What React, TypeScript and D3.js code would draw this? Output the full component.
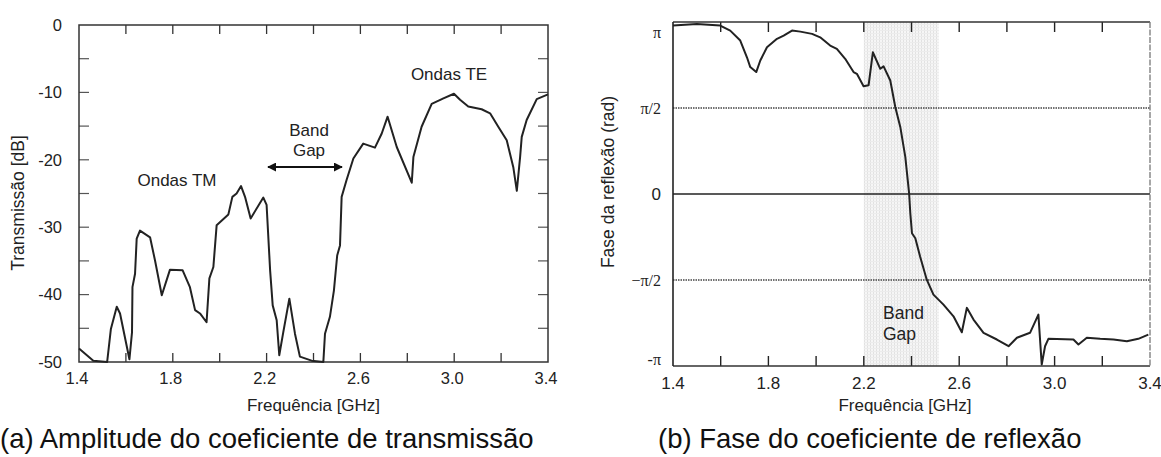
import React from 'react';
import * as d3 from 'd3';

// ---------- Data: (a) transmission amplitude ----------
const transFreq = [1.4, 1.461, 1.52, 1.536, 1.561, 1.575, 1.615, 1.626, 1.628, 1.639, 1.646, 1.66, 1.703, 1.724, 1.753, 1.788, 1.842, 1.873, 1.895, 1.916, 1.944, 1.956, 1.973, 1.987, 2.009, 2.037, 2.054, 2.072, 2.091, 2.108, 2.132, 2.186, 2.2, 2.215, 2.226, 2.243, 2.254, 2.271, 2.297, 2.321, 2.342, 2.392, 2.442, 2.449, 2.47, 2.487, 2.501, 2.513, 2.52, 2.541, 2.57, 2.612, 2.662, 2.691, 2.716, 2.755, 2.819, 2.826, 2.861, 2.904, 2.954, 2.999, 3.025, 3.06, 3.117, 3.153, 3.188, 3.224, 3.252, 3.267, 3.281, 3.288, 3.309, 3.352, 3.4];
const transDb = [-48.0, -49.8, -50.0, -45.1, -41.8, -42.8, -49.6, -45.6, -38.9, -36.9, -31.7, -30.5, -31.5, -34.9, -40.1, -36.3, -36.4, -38.9, -42.3, -42.8, -44.1, -37.6, -35.9, -29.7, -29.0, -28.1, -25.5, -25.0, -23.9, -25.5, -28.7, -25.6, -26.7, -36.4, -41.6, -43.8, -49.0, -45.6, -40.6, -45.8, -49.2, -49.8, -50.0, -45.8, -43.3, -39.4, -34.2, -32.7, -25.5, -23.0, -19.8, -17.6, -18.2, -16.1, -13.6, -18.1, -23.4, -19.6, -15.1, -11.7, -10.9, -10.2, -11.1, -12.1, -12.5, -13.1, -15.1, -17.1, -21.1, -24.6, -19.6, -16.6, -14.1, -11.0, -10.3];

// ---------- Data: (b) reflection phase (in units of pi) ----------
const phaseFreq = [1.4, 1.5, 1.598, 1.64, 1.682, 1.71, 1.724, 1.749, 1.766, 1.794, 1.836, 1.864, 1.899, 1.934, 1.983, 2.017, 2.059, 2.087, 2.122, 2.157, 2.171, 2.199, 2.22, 2.238, 2.269, 2.283, 2.311, 2.332, 2.353, 2.374, 2.39, 2.395, 2.402, 2.416, 2.436, 2.464, 2.492, 2.534, 2.576, 2.611, 2.632, 2.66, 2.702, 2.758, 2.807, 2.842, 2.897, 2.932, 2.946, 2.96, 2.974, 3.079, 3.1, 3.135, 3.191, 3.247, 3.303, 3.351, 3.393];
const phasePi = [0.979, 0.989, 0.979, 0.95, 0.892, 0.795, 0.738, 0.709, 0.776, 0.853, 0.902, 0.921, 0.95, 0.944, 0.931, 0.911, 0.863, 0.844, 0.786, 0.709, 0.699, 0.626, 0.632, 0.824, 0.728, 0.742, 0.66, 0.506, 0.39, 0.216, 0.004, -0.112, -0.228, -0.257, -0.363, -0.498, -0.585, -0.643, -0.711, -0.804, -0.662, -0.73, -0.807, -0.846, -0.885, -0.836, -0.807, -0.701, -0.991, -0.885, -0.842, -0.846, -0.875, -0.836, -0.842, -0.846, -0.856, -0.842, -0.818];

// ---------- Axes ----------
const freqDomain = [1.4, 3.4];
const freqLabelTicks = [1.4, 1.8, 2.2, 2.6, 3.0, 3.4];
const freqMinorTicks = [1.6, 1.8, 2.0, 2.2, 2.4, 2.6, 2.8, 3.0, 3.2];
const dbDomain = [-50, 0];
const dbLabelTicks = [0, -10, -20, -30, -40, -50];
const dbMinorTicks = [-5, -10, -15, -20, -25, -30, -35, -40, -45];
const phaseTickValues = [1, 0.5, 0, -0.5, -1];
const phaseTickLabels = ['π', 'π/2', '0', '−π/2', '-π'];
const bandGap = [2.2, 2.515];

const SANS = '"Liberation Sans", Arial, Helvetica, sans-serif';
const SERIF = '"Liberation Serif", "Times New Roman", serif';
const INK = '#222';

export default function App() {
  // Left chart
  const L = { l: 79, r: 548, t: 25, b: 362 };
  const xa = d3.scaleLinear().domain(freqDomain).range([L.l, L.r]);
  const ya = d3.scaleLinear().domain(dbDomain).range([L.b, L.t]);
  const lineA = d3.line<number>().x((_, i) => xa(transFreq[i])).y((d) => ya(d));

  // Right chart
  const R = { l: 673, r: 1150, t: 22, b: 366 };
  const xb = d3.scaleLinear().domain(freqDomain).range([R.l, R.r]);
  const yb = d3.scaleLinear().domain([-1, 1]).range([R.b, R.t]);
  const lineB = d3.line<number>().x((_, i) => xb(phaseFreq[i])).y((d) => yb(d));

  const fmt = d3.format('.1f');

  return (
    <div style={{ position: 'absolute', left: 0, top: 0 }}>
      <svg width={1161} height={457} style={{ display: 'block', background: '#fff' }}>
        <defs>
          <pattern id="dots" width="3" height="3" patternUnits="userSpaceOnUse">
            <rect width="3" height="3" fill="#f6f6f6" />
            <rect x="0" y="0" width="1" height="3" fill="#e2e2e2" />
            <rect x="0" y="0" width="3" height="1" fill="#ececec" />
          </pattern>
          <marker id="arrH" viewBox="0 0 10 10" refX="9" refY="5" markerWidth="9" markerHeight="9" orient="auto-start-reverse" markerUnits="userSpaceOnUse">
            <path d="M0,0 L10,5 L0,10 z" fill="#111" />
          </marker>
        </defs>

        {/* ================= (a) ================= */}
        <g>
          {freqMinorTicks.map((f) => (
            <g key={'ta' + f} stroke="#333" strokeWidth={1.3}>
              <line x1={xa(f)} x2={xa(f)} y1={L.t} y2={L.t + 9} />
              <line x1={xa(f)} x2={xa(f)} y1={L.b} y2={L.b - 9} />
            </g>
          ))}
          {dbMinorTicks.map((v) => (
            <g key={'da' + v} stroke="#555" strokeWidth={1.2}>
              <line x1={L.l} x2={L.l + 10} y1={ya(v)} y2={ya(v)} />
              <line x1={L.r} x2={L.r - 10} y1={ya(v)} y2={ya(v)} />
            </g>
          ))}
          <rect x={L.l} y={L.t} width={L.r - L.l} height={L.b - L.t} fill="none" stroke="#333" strokeWidth={1.5} />
          <path d={lineA(transDb) || ''} fill="none" stroke={INK} strokeWidth={2} strokeLinejoin="round" />

          {dbLabelTicks.map((v) => (
            <text key={'dl' + v} x={62} y={ya(v)} dy="0.35em" textAnchor="end" fontFamily={SANS} fontSize={16.5} fill={INK}>{v}</text>
          ))}
          {freqLabelTicks.map((f) => (
            <text key={'fl' + f} x={xa(f) - 2} y={378} dy="0.35em" textAnchor="middle" fontFamily={SANS} fontSize={16.5} fill={INK}>{fmt(f)}</text>
          ))}
          <text x={(L.l + L.r) / 2} y={405} dy="0.35em" textAnchor="middle" fontFamily={SANS} fontSize={17} fill={INK}>Frequência [GHz]</text>
          <text transform="translate(18,203) rotate(-90)" dy="0.35em" textAnchor="middle" fontFamily={SANS} fontSize={17.5} fill={INK}>Transmissão [dB]</text>

          <text x={177} y={180} dy="0.35em" textAnchor="middle" fontFamily={SANS} fontSize={17} fill={INK}>Ondas TM</text>
          <text x={449} y={74} dy="0.35em" textAnchor="middle" fontFamily={SANS} fontSize={17} fill={INK}>Ondas TE</text>
          <text x={309} y={130} dy="0.35em" textAnchor="middle" fontFamily={SANS} fontSize={17} fill={INK}>Band</text>
          <text x={309} y={150} dy="0.35em" textAnchor="middle" fontFamily={SANS} fontSize={17} fill={INK}>Gap</text>
          <line x1={268} x2={342} y1={167} y2={167} stroke="#111" strokeWidth={1.8} markerStart="url(#arrH)" markerEnd="url(#arrH)" />
        </g>

        {/* ================= (b) ================= */}
        <g>
          <rect x={xb(bandGap[0])} y={R.t} width={xb(bandGap[1]) - xb(bandGap[0])} height={R.b - R.t} fill="url(#dots)" />
          {freqMinorTicks.map((f) => (
            <g key={'tb' + f} stroke="#222" strokeWidth={1.4}>
              <line x1={xb(f)} x2={xb(f)} y1={R.t} y2={R.t + 10} />
              <line x1={xb(f)} x2={xb(f)} y1={R.b} y2={R.b - 10} />
            </g>
          ))}
          <line x1={R.l} x2={R.r} y1={yb(0.5)} y2={yb(0.5)} stroke="#444" strokeWidth={1.3} strokeDasharray="1.5,1" />
          <line x1={R.l} x2={R.r} y1={yb(-0.5)} y2={yb(-0.5)} stroke="#444" strokeWidth={1.3} strokeDasharray="1.5,1" />
          <line x1={R.l} x2={R.r} y1={yb(0)} y2={yb(0)} stroke="#222" strokeWidth={1.6} />
          <line x1={R.l} x2={R.r} y1={R.t} y2={R.t} stroke="#333" strokeWidth={1.4} />
          <line x1={R.l} x2={R.r} y1={R.b} y2={R.b} stroke="#333" strokeWidth={1.4} />
          <line x1={R.l} x2={R.l} y1={R.t} y2={R.b} stroke="#222" strokeWidth={1.6} />
          <line x1={R.r} x2={R.r} y1={R.t} y2={R.b} stroke="#777" strokeWidth={1.3} strokeDasharray="6,1.5" />

          <path d={lineB(phasePi) || ''} fill="none" stroke={INK} strokeWidth={2} strokeLinejoin="round" />

          {phaseTickValues.map((v, i) => {
            const yy = v === 1 ? yb(v) + 10 : v === -1 ? yb(v) - 7 : yb(v);
            const isZero = phaseTickLabels[i] === '0';
            return (
              <text key={'pl' + i} x={661} y={yy} dy="0.35em" textAnchor="end" fontFamily={isZero ? SANS : SERIF} fontSize={isZero ? 17 : 16} fill={INK}>{phaseTickLabels[i]}</text>
            );
          })}
          {freqLabelTicks.map((f) => (
            <text key={'flb' + f} x={xb(f)} y={383} dy="0.35em" textAnchor="middle" fontFamily={SANS} fontSize={17} fill={INK}>{fmt(f)}</text>
          ))}
          <text x={905} y={405} dy="0.35em" textAnchor="middle" fontFamily={SANS} fontSize={17} fill={INK}>Frequência [GHz]</text>
          <text transform="translate(608,182) rotate(-90)" dy="0.35em" textAnchor="middle" fontFamily={SANS} fontSize={17.5} fill={INK}>Fase da reflexão (rad)</text>
          <text x={883} y={313} dy="0.35em" fontFamily={SANS} fontSize={17.5} fill={INK}>Band</text>
          <text x={883} y={334} dy="0.35em" fontFamily={SANS} fontSize={17.5} fill={INK}>Gap</text>
        </g>

        <text x={0} y={448} fontFamily={SANS} fontSize={27.5} fill="#111">(a) Amplitude do coeficiente de transmissão</text>
        <text x={658} y={448} fontFamily={SANS} fontSize={27.5} fill="#111">(b) Fase do coeficiente de reflexão</text>
      </svg>
    </div>
  );
}
